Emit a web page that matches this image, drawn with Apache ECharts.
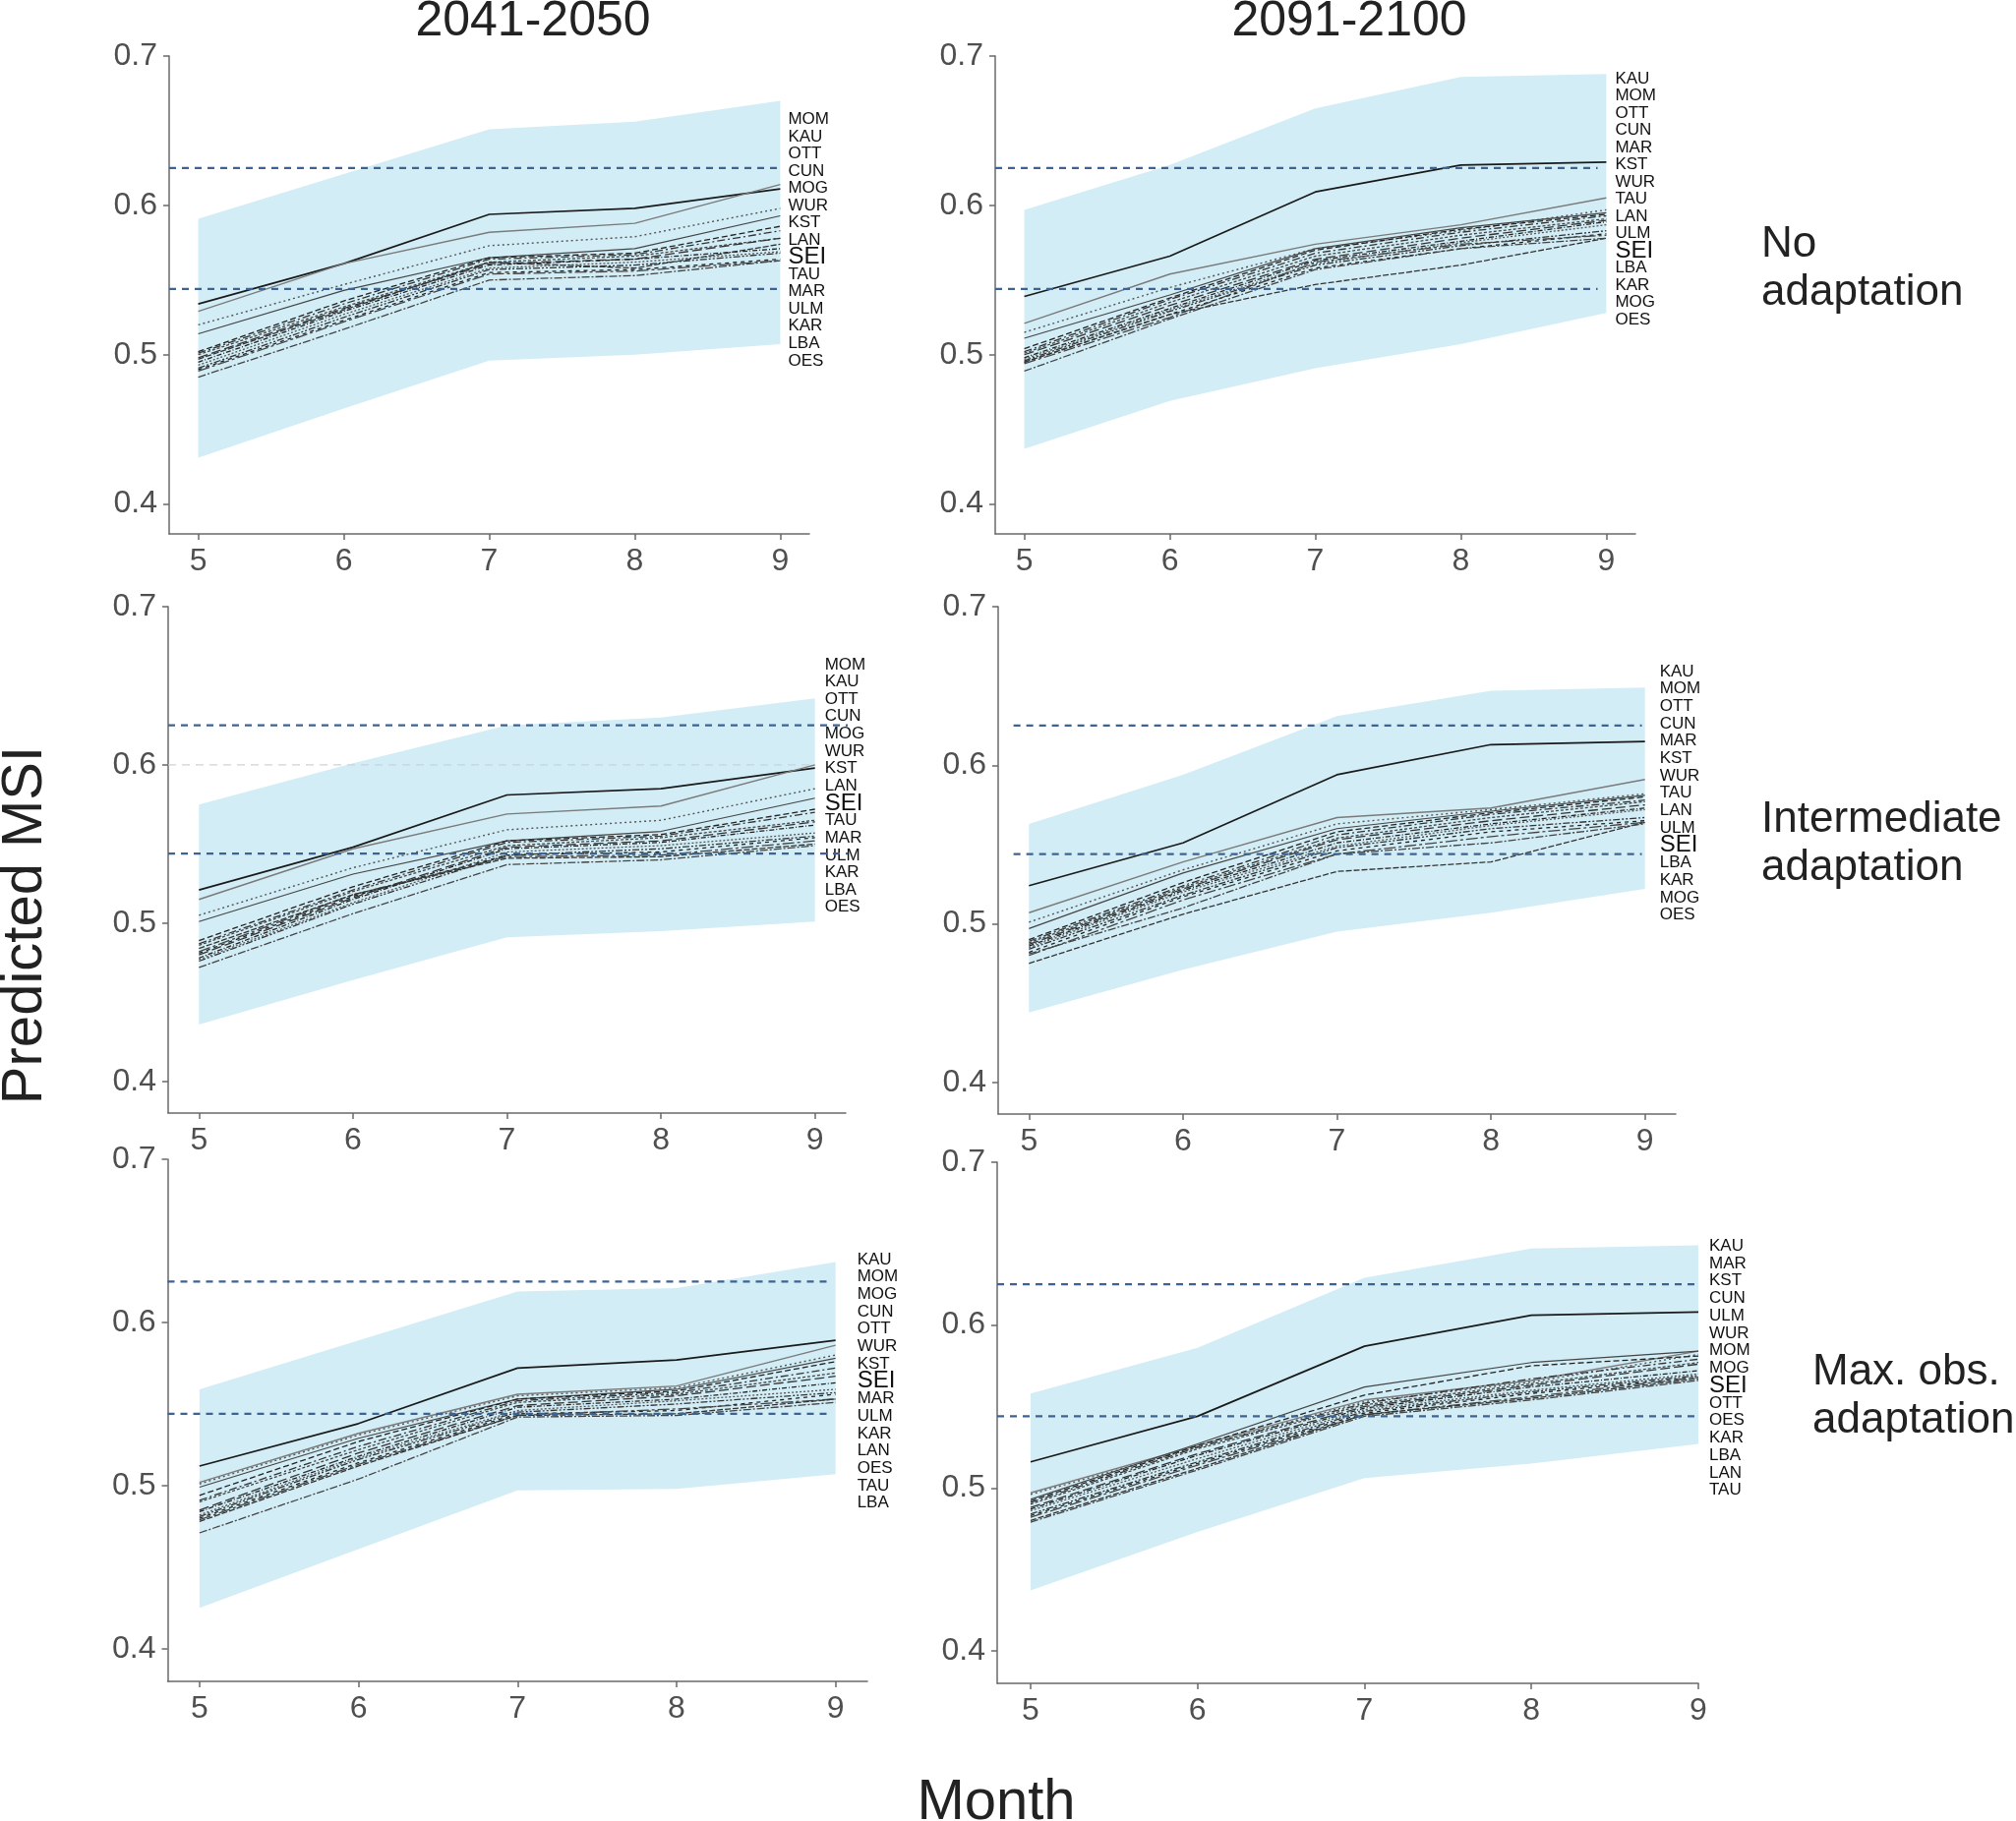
<!DOCTYPE html>
<html><head><meta charset="utf-8">
<script src="https://cdn.jsdelivr.net/npm/echarts@6/dist/echarts.min.js"></script>
<style>html,body{margin:0;padding:0;background:#fff}#c{width:2050px;height:1852px}</style>
</head><body><div id="c"></div>
<script>
// ---------------- DATA ----------------
const months = [5, 6, 7, 8, 9];
const yTicks = [0.4, 0.5, 0.6, 0.7];
const refLevels = [0.625, 0.544];
const greyRefLevel = 0.6;
const colTitles = ['2041-2050', '2091-2100'];
const rowTitles = ['No\nadaptation', 'Intermediate\nadaptation', 'Max. obs.\nadaptation'];

const p1Stations = ['MOM','KAU','OTT','CUN','MOG','WUR','KST','LAN','SEI','TAU','MAR','ULM','KAR','LBA','OES'];
const p2Stations = ['KAU','MOM','OTT','CUN','MAR','KST','WUR','TAU','LAN','ULM','SEI','LBA','KAR','MOG','OES'];
const p3Stations = ['MOM','KAU','OTT','CUN','MOG','WUR','KST','LAN','SEI','TAU','MAR','ULM','KAR','LBA','OES'];
const p4Stations = ['KAU','MOM','OTT','CUN','MAR','KST','WUR','TAU','LAN','ULM','SEI','LBA','KAR','MOG','OES'];
const p5Stations = ['KAU','MOM','MOG','CUN','OTT','WUR','KST','SEI','MAR','ULM','KAR','LAN','OES','TAU','LBA'];
const p6Stations = ['KAU','MAR','KST','CUN','ULM','WUR','MOM','MOG','SEI','OTT','OES','KAR','LBA','LAN','TAU'];

const p1Upper = [0.591, 0.621, 0.651, 0.656, 0.670];
const p1Lower = [0.431, 0.464, 0.496, 0.500, 0.507];
const p1Lines = [
  [0.534, 0.561, 0.594, 0.598, 0.611],
  [0.529, 0.561, 0.582, 0.588, 0.614],
  [0.520, 0.547, 0.573, 0.579, 0.598],
  [0.514, 0.543, 0.565, 0.571, 0.593],
  [0.502, 0.536, 0.565, 0.568, 0.586],
  [0.501, 0.534, 0.564, 0.567, 0.583],
  [0.500, 0.532, 0.562, 0.566, 0.578],
  [0.498, 0.531, 0.561, 0.564, 0.578],
  [0.495, 0.529, 0.560, 0.564, 0.571],
  [0.493, 0.527, 0.558, 0.562, 0.569],
  [0.491, 0.525, 0.557, 0.560, 0.568],
  [0.490, 0.523, 0.555, 0.557, 0.564],
  [0.489, 0.522, 0.554, 0.556, 0.563],
  [0.497, 0.530, 0.562, 0.558, 0.574],
  [0.485, 0.517, 0.550, 0.553, 0.563]
];

const p2Upper = [0.597, 0.627, 0.665, 0.686, 0.688];
const p2Lower = [0.437, 0.469, 0.491, 0.507, 0.528];
const p2Lines = [
  [0.539, 0.566, 0.609, 0.627, 0.629],
  [0.521, 0.554, 0.574, 0.587, 0.605],
  [0.515, 0.545, 0.571, 0.583, 0.597],
  [0.511, 0.540, 0.571, 0.585, 0.595],
  [0.504, 0.538, 0.570, 0.584, 0.594],
  [0.502, 0.537, 0.568, 0.582, 0.593],
  [0.501, 0.535, 0.566, 0.580, 0.591],
  [0.500, 0.533, 0.564, 0.578, 0.590],
  [0.498, 0.531, 0.563, 0.576, 0.589],
  [0.497, 0.530, 0.561, 0.575, 0.587],
  [0.496, 0.529, 0.560, 0.573, 0.583],
  [0.495, 0.527, 0.558, 0.571, 0.581],
  [0.494, 0.525, 0.562, 0.574, 0.580],
  [0.495, 0.527, 0.547, 0.560, 0.578],
  [0.489, 0.524, 0.557, 0.571, 0.578]
];

const p3Upper = [0.575, 0.601, 0.625, 0.630, 0.642];
const p3Lower = [0.436, 0.464, 0.491, 0.495, 0.501];
const p3Lines = [
  [0.521, 0.548, 0.581, 0.585, 0.598],
  [0.515, 0.547, 0.569, 0.574, 0.600],
  [0.505, 0.535, 0.559, 0.565, 0.585],
  [0.501, 0.531, 0.552, 0.558, 0.579],
  [0.489, 0.523, 0.552, 0.556, 0.572],
  [0.487, 0.521, 0.551, 0.555, 0.570],
  [0.486, 0.520, 0.549, 0.554, 0.565],
  [0.480, 0.516, 0.548, 0.552, 0.564],
  [0.478, 0.515, 0.547, 0.551, 0.562],
  [0.477, 0.513, 0.545, 0.549, 0.557],
  [0.476, 0.512, 0.543, 0.547, 0.555],
  [0.481, 0.517, 0.543, 0.545, 0.554],
  [0.482, 0.518, 0.542, 0.543, 0.552],
  [0.484, 0.518, 0.541, 0.542, 0.550],
  [0.472, 0.506, 0.537, 0.540, 0.549]
];

const p4Upper = [0.563, 0.594, 0.631, 0.647, 0.649];
const p4Lower = [0.444, 0.471, 0.495, 0.507, 0.522];
const p4Lines = [
  [0.524, 0.551, 0.594, 0.613, 0.615],
  [0.507, 0.539, 0.567, 0.573, 0.591],
  [0.501, 0.534, 0.563, 0.572, 0.582],
  [0.497, 0.532, 0.560, 0.571, 0.581],
  [0.490, 0.526, 0.558, 0.570, 0.580],
  [0.489, 0.524, 0.556, 0.569, 0.578],
  [0.488, 0.523, 0.554, 0.567, 0.577],
  [0.487, 0.522, 0.553, 0.565, 0.575],
  [0.486, 0.521, 0.551, 0.563, 0.573],
  [0.485, 0.520, 0.549, 0.562, 0.572],
  [0.484, 0.518, 0.548, 0.560, 0.567],
  [0.482, 0.517, 0.546, 0.558, 0.565],
  [0.480, 0.515, 0.544, 0.555, 0.564],
  [0.475, 0.506, 0.533, 0.539, 0.564],
  [0.481, 0.510, 0.544, 0.551, 0.563]
];

const p5Upper = [0.559, 0.589, 0.619, 0.621, 0.637];
const p5Lower = [0.425, 0.461, 0.497, 0.498, 0.507];
const p5Lines = [
  [0.512, 0.538, 0.572, 0.577, 0.589],
  [0.502, 0.532, 0.556, 0.561, 0.586],
  [0.501, 0.531, 0.555, 0.560, 0.580],
  [0.499, 0.529, 0.553, 0.559, 0.578],
  [0.494, 0.527, 0.553, 0.558, 0.576],
  [0.491, 0.524, 0.552, 0.557, 0.572],
  [0.490, 0.522, 0.551, 0.556, 0.569],
  [0.485, 0.520, 0.549, 0.555, 0.567],
  [0.484, 0.518, 0.548, 0.553, 0.563],
  [0.482, 0.517, 0.546, 0.552, 0.559],
  [0.481, 0.516, 0.545, 0.550, 0.557],
  [0.480, 0.514, 0.544, 0.546, 0.556],
  [0.479, 0.513, 0.543, 0.547, 0.553],
  [0.478, 0.512, 0.543, 0.544, 0.553],
  [0.471, 0.504, 0.542, 0.543, 0.551]
];

const p6Upper = [0.558, 0.586, 0.629, 0.647, 0.649];
const p6Lower = [0.437, 0.473, 0.506, 0.515, 0.527];
const p6Lines = [
  [0.516, 0.544, 0.587, 0.606, 0.608],
  [0.497, 0.526, 0.554, 0.566, 0.584],
  [0.496, 0.525, 0.553, 0.565, 0.582],
  [0.493, 0.527, 0.562, 0.577, 0.584],
  [0.492, 0.526, 0.557, 0.575, 0.581],
  [0.491, 0.525, 0.552, 0.567, 0.579],
  [0.490, 0.524, 0.551, 0.564, 0.577],
  [0.488, 0.521, 0.550, 0.563, 0.576],
  [0.487, 0.520, 0.549, 0.562, 0.572],
  [0.486, 0.518, 0.548, 0.560, 0.570],
  [0.484, 0.516, 0.547, 0.559, 0.569],
  [0.483, 0.515, 0.546, 0.558, 0.568],
  [0.482, 0.514, 0.545, 0.556, 0.568],
  [0.480, 0.512, 0.545, 0.555, 0.567],
  [0.479, 0.511, 0.544, 0.554, 0.566]
];

// ---------------- LAYOUT / STYLE ----------------
const panels = [
  {upper: p1Upper, lower: p1Lower, lines: p1Lines, stations: p1Stations,
   grid: {left: 172, top: 57, width: 651, height: 486}, xMax: 9.2,
   labelTop: 0.6576, labelDx: 8, labelStep: 17.53, refX: [4.8, 9.0]},
  {upper: p2Upper, lower: p2Lower, lines: p2Lines, stations: p2Stations,
   grid: {left: 1012, top: 57, width: 651, height: 486}, xMax: 9.2,
   labelTop: 0.6847, labelDx: 9, labelStep: 17.5, refX: [4.8, 8.94]},
  {upper: p3Upper, lower: p3Lower, lines: p3Lines, stations: p3Stations,
   grid: {left: 171, top: 617, width: 689, height: 515}, xMax: 9.2,
   labelTop: 0.6634, labelDx: 10, labelStep: 17.63, refX: [4.8, 9.31], greyRef: true},
  {upper: p4Upper, lower: p4Lower, lines: p4Lines, stations: p4Stations,
   grid: {left: 1015, top: 617, width: 689, height: 516}, xMax: 9.2,
   labelTop: 0.659, labelDx: 15, labelStep: 17.67, refX: [4.9, 8.98]},
  {upper: p5Upper, lower: p5Lower, lines: p5Lines, stations: p5Stations,
   grid: {left: 170.5, top: 1179, width: 711.5, height: 531}, xMax: 9.2,
   labelTop: 0.6386, labelDx: 22, labelStep: 17.7, refX: [4.8, 8.98]},
  {upper: p6Upper, lower: p6Lower, lines: p6Lines, stations: p6Stations,
   grid: {left: 1014, top: 1182, width: 713, height: 530}, xMax: 9.0,
   labelTop: 0.6486, labelDx: 11, labelStep: 17.76, refX: [4.8, 9.0]}
];

const lineStyles = [
  {color: '#1a1a1a', width: 1.7, type: 'solid'},
  {color: '#7a7a7a', width: 1.4, type: 'solid'},
  {color: '#555', width: 1.4, type: [2, 3]},
  {color: '#444', width: 1.2, type: 'solid'},
  {color: '#222', width: 1.3, type: [6, 3]},
  {color: '#333', width: 1.3, type: [8, 3, 2, 3]},
  {color: '#444', width: 1.3, type: [3, 2]},
  {color: '#333', width: 1.3, type: [10, 4]},
  {color: '#222', width: 1.3, type: [5, 2, 1, 2]},
  {color: '#555', width: 1.3, type: [2, 2]},
  {color: '#333', width: 1.3, type: [7, 2, 2, 2, 2, 2]},
  {color: '#222', width: 1.3, type: [4, 4]},
  {color: '#444', width: 1.3, type: [12, 3, 3, 3]},
  {color: '#333', width: 1.3, type: [6, 2]},
  {color: '#444', width: 1.3, type: [8, 2, 2, 2]}
];

const FONT = 'Liberation Sans, Arial, Helvetica, sans-serif';
const axisColor = '#6a6a6a';

const chart = echarts.init(document.getElementById('c'), null, {renderer: 'canvas'});

const grids = [], xAxes = [], yAxes = [], series = [];
panels.forEach((p, i) => {
  grids.push(Object.assign({containLabel: false}, p.grid));
  xAxes.push({
    gridIndex: i, type: 'value', min: 4.8, max: p.xMax,
    axisLine: {show: true, onZero: false, lineStyle: {color: axisColor, width: 1.5}},
    axisTick: {show: true, length: 6, customValues: months, lineStyle: {color: axisColor, width: 1.5}},
    axisLabel: {customValues: months, fontSize: 32, color: '#4f4f4f', margin: 12, fontFamily: FONT},
    splitLine: {show: false}
  });
  yAxes.push({
    gridIndex: i, type: 'value', min: 0.38, max: 0.7,
    axisLine: {show: true, onZero: false, lineStyle: {color: axisColor, width: 1.5}},
    axisTick: {show: true, length: 6, customValues: yTicks, lineStyle: {color: axisColor, width: 1.5}},
    axisLabel: {customValues: yTicks, fontSize: 32, color: '#4f4f4f', margin: 12, fontFamily: FONT,
      formatter: v => v.toFixed(1)},
    splitLine: {show: false}
  });
  // band
  series.push({
    type: 'custom', xAxisIndex: i, yAxisIndex: i, silent: true, z: 1,
    data: months.map((m, k) => [m, p.upper[k], p.lower[k]]),
    encode: {x: 0, y: [1, 2]},
    renderItem: function (params, api) {
      if (params.dataIndex !== 0) return null;
      const pts = [];
      for (let k = 0; k < months.length; k++) pts.push(api.coord([months[k], p.upper[k]]));
      for (let k = months.length - 1; k >= 0; k--) pts.push(api.coord([months[k], p.lower[k]]));
      return {type: 'polygon', shape: {points: pts}, style: {fill: '#d2edf6'}};
    }
  });
  // grey reference (panel 3)
  if (p.greyRef) {
    series.push({
      type: 'line', xAxisIndex: i, yAxisIndex: i, silent: true, z: 2, symbol: 'none',
      data: [[4.8, greyRefLevel], [9.0, greyRefLevel]],
      lineStyle: {color: '#c9d3dc', width: 1.2, type: [8, 6]}
    });
  }
  // reference dashed levels
  refLevels.forEach(lv => {
    series.push({
      type: 'line', xAxisIndex: i, yAxisIndex: i, silent: true, z: 4, symbol: 'none', clip: false,
      data: [[p.refX[0], lv], [p.refX[1], lv]],
      lineStyle: {color: '#3e6391', width: 2.3, type: [7, 6]}
    });
  });
  // station lines
  p.lines.forEach((vals, j) => {
    series.push({
      type: 'line', xAxisIndex: i, yAxisIndex: i, silent: true, z: 3, symbol: 'none',
      data: months.map((m, k) => [m, vals[k]]),
      lineStyle: Object.assign({}, lineStyles[j % lineStyles.length])
    });
  });
});

const graphic = [];
// column titles
graphic.push({type: 'text', x: 542, y: 22, style: {text: colTitles[0], font: '50px ' + FONT, fill: '#222', textAlign: 'center', textVerticalAlign: 'middle'}});
graphic.push({type: 'text', x: 1372, y: 22, style: {text: colTitles[1], font: '50px ' + FONT, fill: '#222', textAlign: 'center', textVerticalAlign: 'middle'}});
// row titles
const rowPos = [[1791, 224], [1791, 809], [1843, 1371]];
rowTitles.forEach((t, r) => {
  graphic.push({type: 'text', x: rowPos[r][0], y: rowPos[r][1],
    style: {text: t, font: '44px ' + FONT, fill: '#222', textAlign: 'left', textVerticalAlign: 'top', lineHeight: 49}});
});
// axis titles
graphic.push({type: 'text', x: 26, y: 941, rotation: Math.PI / 2,
  style: {text: 'Predicted MSI', font: '58px ' + FONT, fill: '#222', textAlign: 'center', textVerticalAlign: 'middle'}});
graphic.push({type: 'text', x: 1013, y: 1834,
  style: {text: 'Month', font: '58px ' + FONT, fill: '#222', textAlign: 'center', textVerticalAlign: 'middle'}});

chart.setOption({
  animation: false,
  backgroundColor: '#ffffff',
  grid: grids, xAxis: xAxes, yAxis: yAxes, series: series,
  graphic: graphic
});

// station label stacks, anchored at month 9 of each panel
panels.forEach((p, i) => {
  const anchor = chart.convertToPixel({xAxisIndex: i, yAxisIndex: i}, [9, p.labelTop]);
  p.stations.forEach((s, j) => {
    const big = s === 'SEI';
    graphic.push({type: 'text', x: anchor[0] + p.labelDx, y: anchor[1] + j * p.labelStep,
      style: {text: s, font: (big ? '24px ' : '17px ') + FONT, fill: '#111', textAlign: 'left', textVerticalAlign: 'middle'}});
  });
});
chart.setOption({graphic: graphic});
</script>
</body></html>
